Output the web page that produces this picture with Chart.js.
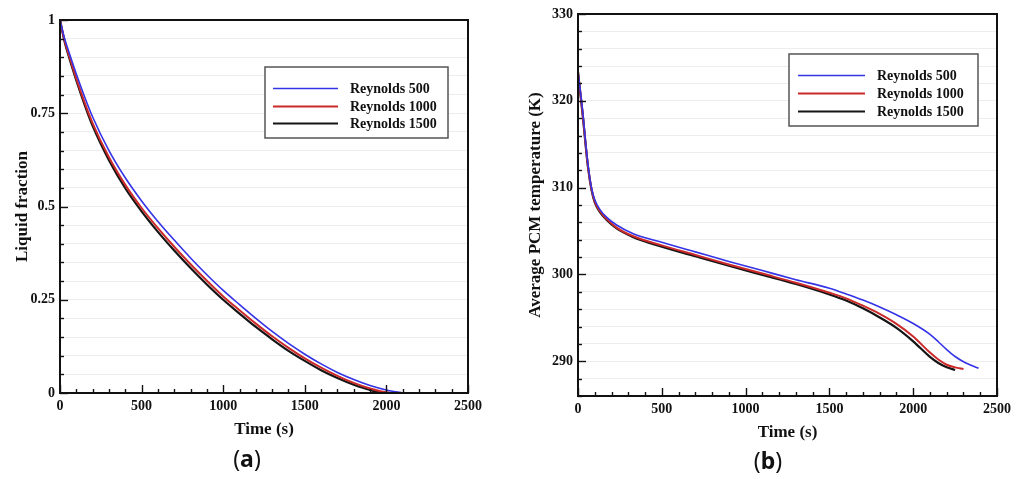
<!DOCTYPE html>
<html>
<head>
<meta charset="utf-8">
<title>Liquid fraction and PCM temperature</title>
<script src="https://cdn.jsdelivr.net/npm/chart.js@4.4.1/dist/chart.umd.min.js"></script>
<style>
  html, body { margin: 0; padding: 0; background: #fff; }
  .wrap { position: relative; width: 1024px; height: 479px; overflow: hidden; }
  canvas { position: absolute; top: 0; }
  #chartA { left: 0; }
  #chartB { left: 512px; }
  .cap { position: absolute; font-family: "Noto Sans", sans-serif; font-size: 23px; color: #111;
         transform: translate(-50%, -50%); white-space: nowrap; }
</style>
</head>
<body>
<div class="wrap">
  <canvas id="chartA" width="512" height="479"></canvas>
  <canvas id="chartB" width="512" height="479"></canvas>
  <div class="cap" style="left:247px;top:458px">(<b>a</b>)</div>
  <div class="cap" style="left:768px;top:460px">(<b>b</b>)</div>
</div>
<script>
/* ═══ solidification: liquid fraction + average PCM temperature ═══ */
var SERIES_LABELS = ['Reynolds 500', 'Reynolds 1000', 'Reynolds 1500'];

// (a) liquid fraction vs time (s)
var LIQ_TIME   = [0, 25, 50, 100, 150, 200, 300, 400, 500, 600, 700, 800, 900, 1000, 1100, 1200, 1300, 1400, 1500, 1600, 1700, 1800, 1900, 2000, 2100];
var LIQ_RE500  = [1, 0.955, 0.92, 0.855, 0.795, 0.74, 0.65, 0.577, 0.515, 0.46, 0.41, 0.362, 0.317, 0.275, 0.237, 0.2, 0.165, 0.133, 0.104, 0.078, 0.055, 0.036, 0.02, 0.008, 0];
var LIQ_RE1000 = [1, 0.95, 0.912, 0.843, 0.78, 0.723, 0.632, 0.558, 0.496, 0.442, 0.392, 0.345, 0.301, 0.259, 0.222, 0.186, 0.152, 0.121, 0.093, 0.068, 0.046, 0.027, 0.012, 0.002, 0];
var LIQ_RE1500 = [1, 0.948, 0.908, 0.838, 0.774, 0.716, 0.624, 0.549, 0.487, 0.432, 0.382, 0.335, 0.291, 0.25, 0.213, 0.177, 0.144, 0.113, 0.086, 0.061, 0.04, 0.022, 0.008, 0, 0];

// (b) average PCM temperature (K) vs time (s); null = run already finished
var TEMP_TIME   = [0, 10, 20, 30, 45, 60, 80, 100, 130, 170, 230, 330, 500, 700, 900, 1100, 1300, 1500, 1600, 1700, 1800, 1900, 2000, 2100, 2150, 2200, 2250, 2300, 2390];
var TEMP_RE500  = [323.3, 321.8, 320.2, 318.4, 315.3, 312.6, 310.0, 308.6, 307.5, 306.6, 305.7, 304.7, 303.7, 302.6, 301.5, 300.45, 299.4, 298.4, 297.75, 297.05, 296.25, 295.35, 294.35, 293.1, 292.25, 291.35, 290.55, 289.95, 289.2];
var TEMP_RE1000 = [323.3, 321.6, 319.9, 318.1, 315.1, 312.4, 309.9, 308.4, 307.3, 306.4, 305.4, 304.4, 303.35, 302.25, 301.15, 300.1, 299.05, 297.9, 297.25, 296.4, 295.45, 294.3, 292.85, 291.0, 290.2, 289.6, 289.3, 289.1, null];
var TEMP_RE1500 = [323.3, 321.5, 319.8, 318.0, 315.0, 312.3, 309.8, 308.3, 307.2, 306.3, 305.3, 304.3, 303.2, 302.1, 301.0, 299.95, 298.9, 297.7, 297.0, 296.1, 295.05, 293.85, 292.3, 290.5, 289.8, 289.3, 289.0, null, null];

var X_TICKS_MAJOR = 500;

(function () {
  var COLORS = ['#3434e6', '#cc2a2a', '#151515'];
  var WIDTHS = [1.6, 2, 2.2];
  var SERIF  = '"Liberation Serif", "Times New Roman", serif';

  Chart.defaults.font.family = SERIF;
  Chart.defaults.font.weight = 'bold';
  Chart.defaults.color = '#111';

  function points(xs, ys) {
    var out = [];
    xs.forEach(function (x, i) { if (ys[i] != null) out.push({ x: x, y: ys[i] }); });
    return out;
  }

  function makeSets(xs, list) {
    return list.map(function (ys, i) {
      return {
        label: SERIES_LABELS[i], data: points(xs, ys),
        borderColor: COLORS[i], borderWidth: WIDTHS[i],
        pointRadius: 0, fill: false, cubicInterpolationMode: 'monotone'
      };
    });
  }

  /* ── frame + inward tick marks (Tecplot style) ── */
  var framePlugin = {
    id: 'frame',
    afterDatasetsDraw: function (chart, args, opts) {
      var a = chart.chartArea, c = chart.ctx;
      var xs = chart.scales.x, ys = chart.scales.y;
      c.save();
      c.strokeStyle = '#111';
      c.lineWidth = 1.4;
      xs.ticks.forEach(function (t) {
        var px = Math.round(xs.getPixelForValue(t.value)) + 0.5;
        var len = (t.value % X_TICKS_MAJOR === 0) ? 8 : 4;
        c.beginPath(); c.moveTo(px, a.bottom); c.lineTo(px, a.bottom - len); c.stroke();
      });
      ys.ticks.forEach(function (t) {
        var py = Math.round(ys.getPixelForValue(t.value)) + 0.5;
        var len = opts.isMajorY(t.value) ? 8 : 4;
        c.beginPath(); c.moveTo(a.left, py); c.lineTo(a.left + len, py); c.stroke();
      });
      c.lineWidth = 2;
      c.strokeRect(a.left, a.top, a.right - a.left, a.bottom - a.top);
      c.restore();
    }
  };

  /* ── boxed legend inside the plot ── */
  var boxLegend = {
    id: 'boxLegend',
    afterDraw: function (chart, args, opts) {
      var a = chart.chartArea, c = chart.ctx;
      var x0 = a.left + opts.dx, y0 = a.top + opts.dy;
      c.save();
      c.fillStyle = '#fff';
      c.fillRect(x0, y0, opts.w, opts.h);
      c.strokeStyle = '#555';
      c.lineWidth = 1.5;
      c.strokeRect(x0, y0, opts.w, opts.h);
      c.font = 'bold 14px ' + SERIF;
      c.textBaseline = 'middle';
      chart.data.datasets.forEach(function (ds, i) {
        var y = Math.round(y0 + opts.row0 + i * opts.rowH) + 0.5;
        c.strokeStyle = ds.borderColor;
        c.lineWidth = ds.borderWidth;
        c.beginPath(); c.moveTo(x0 + opts.lineX, y); c.lineTo(x0 + opts.lineX + opts.lineW, y); c.stroke();
        c.fillStyle = '#111';
        c.fillText(ds.label, x0 + opts.textX, y + 1);
      });
      c.restore();
    }
  };

  function buildChart(id, cfg) {
    return new Chart(document.getElementById(id), {
      type: 'line',
      data: { datasets: cfg.datasets },
      plugins: [framePlugin, boxLegend],
      options: {
        responsive: false, animation: false,
        layout: { padding: cfg.padding },
        plugins: {
          legend: { display: false },
          tooltip: { enabled: false },
          frame: { isMajorY: cfg.isMajorY },
          boxLegend: cfg.legend
        },
        scales: {
          x: {
            type: 'linear', min: 0, max: 2500,
            afterFit: function (s) { s.height = 52; },
            grid: { display: false, drawTicks: false },
            border: { display: false },
            ticks: {
              stepSize: 100, autoSkip: false, maxRotation: 0, padding: 5,
              font: { size: 14, weight: 'bold' },
              callback: function (v) { return v % X_TICKS_MAJOR === 0 ? String(v) : ''; }
            },
            title: { display: true, text: 'Time (s)', font: { size: 17, weight: 'bold' }, padding: { top: 0, bottom: 5 } }
          },
          y: {
            type: 'linear', min: cfg.yMin, max: cfg.yMax,
            afterFit: function (s) { s.width = cfg.yWidth; },
            grid: { color: 'rgba(0,0,0,0.07)', lineWidth: 1, drawTicks: false },
            border: { display: false },
            ticks: {
              stepSize: cfg.yStep, autoSkip: false, padding: 5,
              font: { size: 14, weight: 'bold' },
              callback: cfg.yLabel
            },
            title: { display: true, text: cfg.yTitle, font: { size: 17, weight: 'bold' }, padding: { top: cfg.yTitlePad, bottom: 0 } }
          }
        }
      }
    });
  }

  /* ── (a) liquid fraction ── */
  var isQuarter = function (v) { return Math.abs(v * 4 - Math.round(v * 4)) < 1e-6; };
  buildChart('chartA', {
    datasets: makeSets(LIQ_TIME, [LIQ_RE500, LIQ_RE1000, LIQ_RE1500]),
    padding: { left: 0, top: 20, right: 44, bottom: 34 },
    yMin: 0, yMax: 1, yStep: 0.05, yWidth: 60, yTitlePad: 12,
    yTitle: 'Liquid fraction',
    isMajorY: isQuarter,
    yLabel: function (v) { return isQuarter(v) ? String(+v.toFixed(2)) : ''; },
    legend: { dx: 205, dy: 47, w: 183, h: 71, lineX: 8, lineW: 65, textX: 85, row0: 21, rowH: 17.5 }
  });

  /* ── (b) average PCM temperature ── */
  var isTen = function (v) { return Math.round(v) % 10 === 0; };
  buildChart('chartB', {
    datasets: makeSets(TEMP_TIME, [TEMP_RE500, TEMP_RE1000, TEMP_RE1500]),
    padding: { left: 0, top: 14, right: 27, bottom: 31 },
    yMin: 286, yMax: 330, yStep: 2, yWidth: 66, yTitlePad: 13,
    yTitle: 'Average PCM temperature (K)',
    isMajorY: isTen,
    yLabel: function (v) { return isTen(v) ? String(v) : ''; },
    legend: { dx: 211, dy: 40, w: 189, h: 72, lineX: 9, lineW: 67, textX: 88, row0: 21, rowH: 18 }
  });
})();
</script>
</body>
</html>
